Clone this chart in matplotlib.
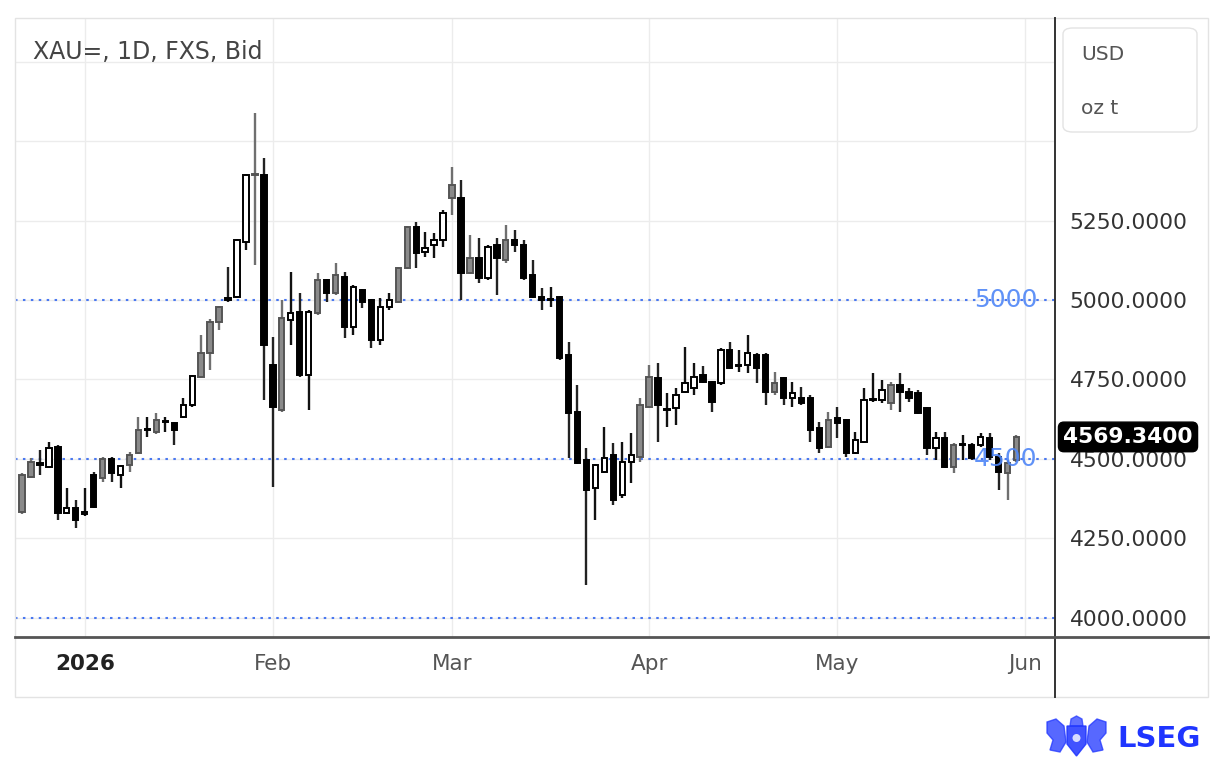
import matplotlib
matplotlib.use('Agg')
import matplotlib.pyplot as plt
import matplotlib.transforms as mtransforms
from matplotlib.patches import Rectangle, FancyBboxPatch, Polygon, Ellipse
from matplotlib.lines import Line2D
import numpy as np
import pandas as pd

# ---------------- data ----------------
start_date = '2025-12-22'
end_date = '2026-05-29'
holidays = ['2025-12-25', '2026-01-01', '2026-04-03']

opens = [4333, 4443, 4487, 4475, 4538, 4330, 4346, 4327, 4349, 4440,
         4500, 4450, 4481, 4519, 4591, 4585, 4616, 4613, 4632, 4670,
         4758, 4833, 4931, 5006, 5009, 5182, 5393, 5393, 4796, 4654,
         4937, 4962, 4764, 4959, 5063, 5022, 5072, 4915, 5031, 5000,
         4874, 4978, 4994, 5101, 5230, 5151, 5173, 5189, 5321, 5321,
         5085, 5132, 5069, 5173, 5126, 5189, 5173, 5079, 5009, 5000,
         5009, 4827, 4648, 4497, 4409, 4459, 4513, 4387, 4491, 4506,
         4663, 4755, 4654, 4660, 4711, 4723, 4764, 4742, 4739, 4843,
         4793, 4796, 4827, 4827, 4711, 4755, 4692, 4692, 4692, 4597,
         4538, 4629, 4623, 4519, 4553, 4686, 4686, 4676, 4733, 4711,
         4708, 4660, 4535, 4566, 4475, 4544, 4544, 4544, 4566, 4506,
         4456, 4497]
highs = [4455, 4503, 4528, 4553, 4545, 4409, 4371, 4409, 4459, 4505,
         4505, 4482, 4522, 4632, 4632, 4645, 4632, 4616, 4692, 4765,
         4890, 4940, 4982, 5104, 5192, 5396, 5588, 5447, 4884, 5000,
         5088, 5022, 4969, 5085, 5066, 5116, 5088, 5047, 5035, 5003,
         5006, 5022, 5104, 5233, 5245, 5214, 5211, 5283, 5418, 5377,
         5204, 5195, 5173, 5195, 5236, 5220, 5189, 5126, 5038, 5041,
         5012, 4868, 4733, 4535, 4484, 4601, 4550, 4553, 4582, 4692,
         4796, 4802, 4708, 4723, 4852, 4802, 4792, 4745, 4849, 4868,
         4843, 4890, 4833, 4833, 4774, 4758, 4742, 4726, 4701, 4616,
         4648, 4663, 4626, 4585, 4723, 4770, 4748, 4742, 4770, 4723,
         4717, 4663, 4585, 4585, 4550, 4575, 4550, 4582, 4582, 4519,
         4497, 4575]
lows = [4328, 4440, 4450, 4472, 4308, 4327, 4283, 4320, 4345, 4428,
        4428, 4409, 4459, 4515, 4569, 4580, 4585, 4544, 4628, 4663,
        4755, 4780, 4906, 4994, 5006, 5157, 5110, 4686, 4412, 4648,
        4858, 4758, 4654, 4953, 4994, 5016, 4880, 4890, 4975, 4849,
        4858, 4969, 4990, 5098, 5101, 5135, 5132, 5167, 5267, 5000,
        5082, 5053, 5063, 5016, 5116, 5151, 5063, 5006, 4969, 4978,
        4811, 4503, 4485, 4104, 4308, 4456, 4355, 4377, 4424, 4491,
        4660, 4553, 4601, 4607, 4708, 4701, 4739, 4648, 4733, 4783,
        4774, 4770, 4739, 4670, 4701, 4670, 4663, 4670, 4553, 4519,
        4535, 4566, 4506, 4516, 4550, 4679, 4676, 4654, 4648, 4679,
        4642, 4513, 4497, 4472, 4456, 4497, 4497, 4538, 4497, 4402,
        4371, 4491]
closes = [4450, 4491, 4481, 4535, 4330, 4346, 4308, 4333, 4450, 4500,
          4456, 4478, 4513, 4591, 4594, 4623, 4620, 4591, 4670, 4761,
          4833, 4931, 4978, 5000, 5189, 5393, 5396, 4858, 4663, 4943,
          4959, 4764, 4962, 5063, 5022, 5079, 4915, 5041, 4994, 4874,
          4978, 5000, 5101, 5230, 5148, 5164, 5189, 5274, 5362, 5085,
          5132, 5069, 5167, 5132, 5189, 5173, 5069, 5009, 5000, 5003,
          4818, 4645, 4487, 4402, 4481, 4503, 4371, 4491, 4513, 4670,
          4758, 4670, 4657, 4701, 4739, 4758, 4742, 4679, 4843, 4786,
          4796, 4833, 4786, 4711, 4739, 4692, 4708, 4676, 4591, 4535,
          4623, 4613, 4519, 4560, 4686, 4689, 4717, 4733, 4711, 4692,
          4645, 4535, 4566, 4475, 4544, 4547, 4503, 4569, 4506, 4459,
          4487, 4569.34]
# candle class: u = hollow, d = filled, g = shaded
candle_class = list("ggdudududg"
                    "dugguguduu"
                    "gggduugddg"
                    "udugdgdudd"
                    "uuggduuugd"
                    "gdudgddddu"
                    "dddduuduug"
                    "gduuuuddud"
                    "uuddgduddd"
                    "gdduuuugdd"
                    "ddudgududd"
                    "gg")
levels = [5000, 4500, 4000]
level_labels = ['5000', '4500', '']
y_ticks = [4000, 4250, 4500, 4750, 5000, 5250, 5500, 5750]
month_labels = ['2026', 'Feb', 'Mar', 'Apr', 'May', 'Jun']
title = 'XAU=, 1D, FXS, Bid'
unit_lines = ['USD', 'oz t']

n = len(opens)
assert len(highs) == n and len(lows) == n and len(closes) == n
candle_class = candle_class[:n] + ['g'] * max(0, n - len(candle_class))

dates = pd.bdate_range(start_date, end_date)
dates = dates[~dates.isin(pd.to_datetime(holidays))]
dates = dates[:n]

# ---------------- figure ----------------
W, H = 1216, 766
fig = plt.figure(figsize=(W / 100, H / 100), dpi=100)
fig.patch.set_facecolor('white')


def fx(px):
    return px / W


def fy(py):
    return 1 - py / H


ax = fig.add_axes([fx(15), fy(637), fx(1055) - fx(15), fy(18) - fy(637)])
ax.set_facecolor('white')
for s in ax.spines.values():
    s.set_visible(False)

x = np.arange(n)
o = np.array(opens, float)
h = np.array(highs, float)
l = np.array(lows, float)
c = np.array(closes, float)

ax.set_xlim(-0.78, 115.3)
ax.set_ylim(3940, 5887)

# grid & ticks
ax.set_yticks(y_ticks)
ax.set_yticklabels([f'{v:.4f}' if v <= 5250 else '' for v in y_ticks])
ax.yaxis.tick_right()
ax.tick_params(axis='y', length=0, pad=10.5, labelsize=15.7, labelcolor='#333333')

month_pos = []
for m in pd.period_range('2026-01', '2026-05', freq='M'):
    idx = np.where((dates.year == m.year) & (dates.month == m.month))[0]
    month_pos.append(int(idx[0]))
month_pos.append(n)
ax.set_xticks(month_pos)
ax.set_xticklabels(month_labels)
ax.tick_params(axis='x', length=0, pad=12.5, labelsize=15.5, labelcolor='#555555')
xl = ax.get_xticklabels()
xl[0].set_fontweight('bold')
xl[0].set_color('#222222')

ax.grid(True, color='#ececec', lw=1.0, zorder=0)
ax.set_axisbelow(True)

# level lines
for lv, lab in zip(levels, level_labels):
    ax.axhline(lv, color='#4a78f0', ls=(0, (1.2, 2.6)), lw=1.5, zorder=1)
    if lab:
        ax.text(109.8, lv, lab, color='#4f86f7', fontsize=18, ha='center',
                va='center', zorder=5, alpha=0.9)

# candles
face_map = {'u': 'white', 'd': 'black', 'g': '#8a8a8a'}
edge_map = {'u': 'black', 'd': 'black', 'g': '#555555'}
wick_map = {'u': '#111111', 'd': '#222222', 'g': '#6f6f6f'}
faces = [face_map[k] for k in candle_class]
edges = [edge_map[k] for k in candle_class]
wicks = [wick_map[k] for k in candle_class]

ax.vlines(x, l, h, colors=wicks, lw=1.7, zorder=2)
bottoms = np.minimum(o, c)
heights = np.maximum(np.abs(c - o), 4)
ax.bar(x, heights, bottom=bottoms, width=0.6, color=faces, edgecolor=edges,
       linewidth=1.4, zorder=3)

# last price box
trans = mtransforms.blended_transform_factory(ax.transAxes, ax.transData)
ax.text((1128 - 15) / 1040, c[-1], f'{c[-1]:.4f}', transform=trans, color='white',
        fontsize=15.7, fontweight='bold', ha='center', va='center', zorder=7,
        clip_on=False,
        bbox=dict(boxstyle='round,pad=0.22,rounding_size=0.25', fc='black', ec='black'))

# frame lines
fig.add_artist(Rectangle((fx(15), fy(697)), fx(1208) - fx(15), fy(18) - fy(697),
                         transform=fig.transFigure, fill=False, ec='#e3e3e3', lw=1.0))
fig.add_artist(Line2D([fx(1055), fx(1055)], [fy(18), fy(697)], transform=fig.transFigure,
                      color='#333333', lw=1.4))
fig.add_artist(Line2D([fx(15), fx(1208)], [fy(637), fy(637)], transform=fig.transFigure,
                      color='#555555', lw=2.0))

# title
fig.text(fx(33), fy(52), title, fontsize=17, color='#444444', va='center', ha='left')

# unit box
fig.add_artist(FancyBboxPatch((fx(1063), fy(132)), fx(1197) - fx(1063), fy(28) - fy(132),
                              boxstyle='round,pad=0,rounding_size=0.008',
                              transform=fig.transFigure, fc='white', ec='#e3e3e3', lw=1.0))
fig.text(fx(1081), fy(55), unit_lines[0], fontsize=14.5, color='#555555', va='center')
fig.text(fx(1081), fy(108), unit_lines[1], fontsize=14.5, color='#555555', va='center')

# LSEG logo
blue = '#1f35ff'
fig.text(fx(1117), fy(739), 'LSEG', fontsize=21, fontweight='bold', color=blue,
         va='center', ha='left')
shield = [(1067, 726), (1086, 726), (1086, 744), (1076.5, 756), (1067, 744)]
fig.add_artist(Polygon([(fx(a), fy(b)) for a, b in shield], closed=True,
                       transform=fig.transFigure, fc=blue, ec=blue, alpha=0.85))
left_lion = [(1047, 722), (1056, 719), (1064, 726), (1066, 742), (1060, 752),
             (1050, 750), (1053, 740), (1047, 733)]
right_lion = [(2153 - a, b) for a, b in left_lion]
for poly in (left_lion, right_lion):
    fig.add_artist(Polygon([(fx(a), fy(b)) for a, b in poly], closed=True,
                           transform=fig.transFigure, fc=blue, ec=blue, alpha=0.75))
crest = [(1070, 726), (1071, 719), (1076.5, 716), (1082, 719), (1083, 726)]
fig.add_artist(Polygon([(fx(a), fy(b)) for a, b in crest], closed=True,
                       transform=fig.transFigure, fc=blue, ec=blue, alpha=0.7))
fig.add_artist(Ellipse((fx(1076.5), fy(738)), fx(8), 8 / H, transform=fig.transFigure,
                       fc='white', ec='none', alpha=0.8))

fig.savefig('out.png', dpi=100, facecolor='white')
